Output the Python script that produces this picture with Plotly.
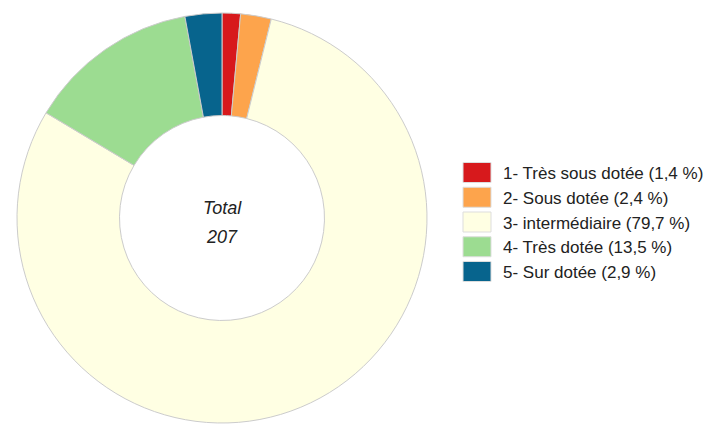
import plotly.graph_objects as go

categories = ["1- Très sous dotée", "2- Sous dotée", "3- intermédiaire", "4- Très dotée", "5- Sur dotée"]
values = [3, 5, 165, 28, 6]
colors = ["#d7191c", "#fda44c", "#ffffe3", "#9cdc91", "#07648d"]
center_label = "Total"

total = sum(values)
# page body has an 8px margin; figure is sized to fill the rest of the window
OFF = 8
W, H = 715 - OFF, 425 - OFF


def px(x):
    return (x - OFF) / W


def py(y):
    return 1 - (y - OFF) / H


fig = go.Figure()
fig.add_trace(go.Pie(
    labels=categories,
    values=values,
    hole=0.5,
    sort=False,
    direction="clockwise",
    rotation=0,
    marker=dict(colors=colors, line=dict(color="#cccccc", width=1)),
    textinfo="none",
    hoverinfo="label+value+percent",
    showlegend=False,
    domain=dict(x=[px(17), px(427)], y=[py(423), py(13)]),
))

font_family = "Liberation Sans, Arial, sans-serif"
annotations = [
    dict(x=px(222), y=py(208), xref="paper", yref="paper", text="<i>%s</i>" % center_label,
         xanchor="center", yanchor="middle",
         showarrow=False, font=dict(family=font_family, size=18, color="#222222")),
    dict(x=px(222), y=py(237), xref="paper", yref="paper", text="<i>%d</i>" % total,
         xanchor="center", yanchor="middle",
         showarrow=False, font=dict(family=font_family, size=18, color="#222222")),
]
shapes = []
row0, step = 172.5, 24.75
for i, (lab, v, c) in enumerate(zip(categories, values, colors)):
    yc = row0 + i * step
    shapes.append(dict(type="rect", xref="paper", yref="paper",
                       x0=px(463), x1=px(491), y0=py(yc - 10), y1=py(yc + 10),
                       fillcolor=c, line=dict(color="#dddddd", width=1)))
    pct = ("%.1f" % (100 * v / total)).replace(".", ",")
    annotations.append(dict(x=px(501), y=py(yc + 1), xref="paper", yref="paper",
                            xanchor="left", yanchor="middle", showarrow=False,
                            text="%s (%s %%)" % (lab, pct),
                            font=dict(family=font_family, size=17, color="#222222")))

fig.update_layout(
    width=W, height=H,
    margin=dict(l=0, r=0, t=0, b=0),
    paper_bgcolor="white", plot_bgcolor="white",
    annotations=annotations, shapes=shapes,
)
fig.write_html("out.html")
